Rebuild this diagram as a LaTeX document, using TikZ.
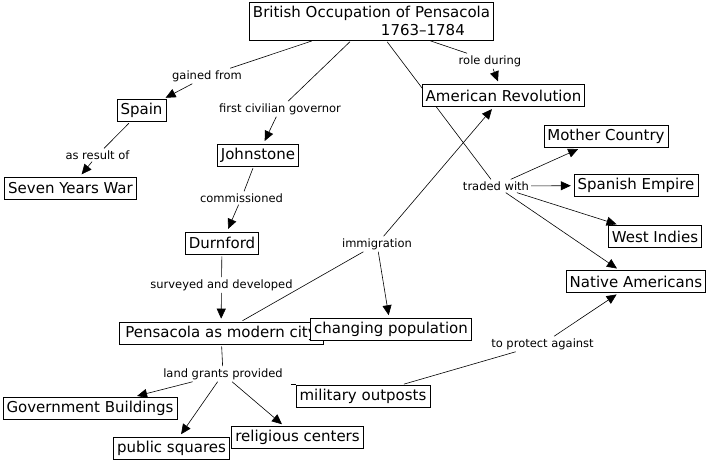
\documentclass[tikz,border=0pt]{standalone}
\usepackage{fontspec}
\setmainfont{DejaVu Sans}
\usetikzlibrary{shapes,arrows.meta,backgrounds}
\tikzstyle{line} = [draw, line width=0.6pt, shorten >=3pt, -{Triangle[length=10pt,width=9pt]}]
\tikzstyle{plain} = [draw, line width=0.6pt, shorten <=2pt]
\tikzstyle{concept} = [draw, fill=white, rectangle, text centered, minimum height=22pt, inner xsep=3.5pt, line width=0.6pt, font=\fontsize{15}{18}\selectfont]
\tikzstyle{linkword} = [rectangle, inner sep=2pt, font=\fontsize{11.5}{13}\selectfont]

\begin{document}
\begin{tikzpicture}[x=1pt, y=-1pt]
        \useasboundingbox (0,0) rectangle (710,462);
        % concepts
        \node[concept, align=left, minimum height=38pt] (occupation) at (371.5,21) {British Occupation of Pensacola\\\hspace*{128pt}1763--1784};
        \node[concept] (spain) at (141.5,110.5) {Spain};
        \node[concept] (sevenyears) at (70.5,188) {Seven Years War};
        \node[concept] (johnstone) at (258,155) {Johnstone};
        \node[concept] (durnford) at (222,243) {Durnford};
        \node[concept, minimum width=204pt] (city) at (221,333) {Pensacola as modern city};
        \node[concept] (population) at (391,329.5) {changing population};
        \node[concept] (outposts) at (363,396) {military outposts};
        \node[concept] (govbuild) at (90,408) {Government Buildings};
        \node[concept] (squares) at (171.5,448) {public squares};
        \node[concept] (religious) at (297.5,437.5) {religious centers};
        \node[concept] (revolution) at (503.5,95.5) {American Revolution};
        \node[concept] (mother) at (606,136.5) {Mother Country};
        \node[concept] (spanish) at (636,185.5) {Spanish Empire};
        \node[concept] (westindies) at (655,236.5) {West Indies};
        \node[concept] (natives) at (636,281.5) {Native Americans};
        % linking words
        \node[linkword] (gained) at (207,76) {gained from};
        \node[linkword] (result) at (97.5,155) {as result of};
        \node[linkword] (governor) at (280,109) {first civilian governor};
        \node[linkword] (commissioned) at (241.5,198) {commissioned};
        \node[linkword] (surveyed) at (221.5,285) {surveyed and developed};
        \node[linkword] (immigration) at (377,244) {immigration};
        \node[linkword] (role) at (490,61) {role during};
        \node[linkword] (traded) at (496,186) {traded with};
        \node[linkword] (grants) at (223,374) {land grants provided};
        \node[linkword] (protect) at (542.5,344) {to protect against};
        \coordinate (stub) at ([xshift=-5pt]outposts.north west);
        \begin{pgfonlayer}{background}
        \path[plain] (occupation) -- (gained);
        \path[line] (gained) -- (spain);
        \path[plain] (spain) -- (result);
        \path[line] (result) -- (sevenyears);
        \path[plain] (occupation) -- (governor);
        \path[line] (governor) -- (johnstone);
        \path[plain] (johnstone) -- (commissioned);
        \path[line] (commissioned) -- (durnford);
        \path[plain] (durnford) -- (surveyed);
        \path[line] (surveyed) -- (city);
        \path[plain] (city) -- (immigration);
        \path[line] (immigration) -- (revolution);
        \path[line] (immigration) -- (population);
        \path[plain] (occupation) -- (role);
        \path[line] (role) -- (revolution);
        \path[plain] (occupation) -- (traded);
        \path[line] (traded) -- (mother);
        \path[line] (traded) -- (spanish);
        \path[line] (traded) -- (westindies);
        \path[line] (traded) -- (natives);
        \path[plain] (city) -- (grants);
        \path[line] (grants) -- (govbuild);
        \path[line] (grants) -- (squares);
        \path[line] (grants) -- (religious);
        \path[draw, line width=0.6pt] (stub) -- (outposts.north west);
        \path[plain] (outposts) -- (protect);
        \path[line] (protect) -- (natives);
        \end{pgfonlayer}
    \end{tikzpicture}
\end{document}
